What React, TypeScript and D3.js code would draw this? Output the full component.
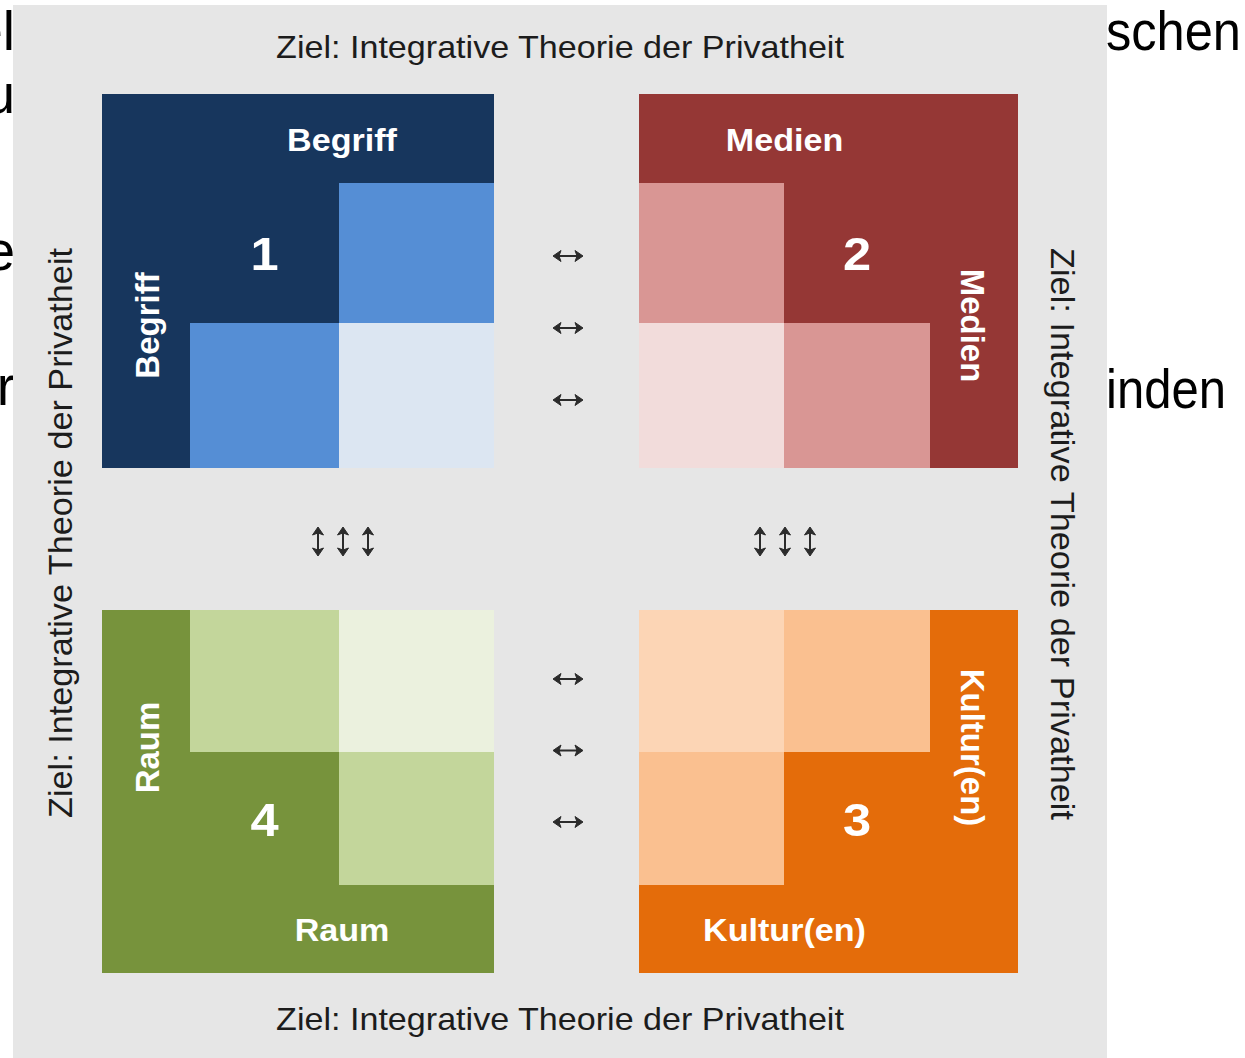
import React, { useEffect, useRef } from 'react'
import * as d3 from 'd3'

const title = 'Ziel: Integrative Theorie der Privatheit'
// order: top left, top right, bottom right, bottom left
const blockNames = ['Begriff', 'Medien', 'Kultur(en)', 'Raum']
const blockNumbers = ['1', '2', '3', '4']
const darkShades = ['#17365d', '#953735', '#e46c0a', '#77933c']
const midShades = ['#558ed5', '#d99694', '#fac090', '#c3d69b']
const lightShades = ['#dce6f2', '#f2dcdb', '#fcd5b5', '#ebf1de']
// 0 = dark, 1 = mid, 2 = light (header row + header column included)
const shadeGrids = [
  [[0, 0, 0], [0, 0, 1], [0, 1, 2]],
  [[0, 0, 0], [1, 0, 0], [2, 1, 0]],
  [[2, 1, 0], [1, 0, 0], [0, 0, 0]],
  [[0, 1, 2], [0, 0, 1], [0, 0, 0]],
]
// three arrows between each pair of neighbouring blocks
const links = [0, 1, 2]
// words of the slide underneath, cut off by the picture
const leftFragments = ['el', 'u', 'e', 'r']
const rightFragments = ['schen', 'inden']

export default function App() {
  const ref = useRef<SVGSVGElement>(null)

  useEffect(() => {
    const W = 1245
    const H = 1058
    const font = '"Liberation Sans", Arial, sans-serif'
    const svg = d3.select(ref.current)
    svg.selectAll('*').remove()

    svg.append('rect').attr('width', W).attr('height', H).attr('fill', '#fff')

    // slide text behind the panel
    const bg = svg.append('g').attr('font-family', font).attr('font-size', 55).attr('fill', '#000')
    const leftY = [50, 113, 270, 405]
    bg.selectAll('text.lf')
      .data(leftFragments)
      .join('text')
      .attr('class', 'lf')
      .attr('x', 15)
      .attr('y', (d, i) => leftY[i])
      .attr('text-anchor', 'end')
      .text(d => d)
    const rightY = [50, 408]
    const rightLen = [135, 120]
    bg.selectAll('text.rf')
      .data(rightFragments)
      .join('text')
      .attr('class', 'rf')
      .attr('x', 1106)
      .attr('y', (d, i) => rightY[i])
      .attr('textLength', (d, i) => rightLen[i])
      .attr('lengthAdjust', 'spacingAndGlyphs')
      .text(d => d)

    // gray panel
    svg.append('rect')
      .attr('x', 13).attr('y', 5)
      .attr('width', 1094).attr('height', H - 5)
      .attr('fill', '#e6e6e6')

    // titles on all four sides
    const tg = svg.append('g').attr('font-family', font).attr('fill', '#1c1c1c')
    tg.append('text')
      .attr('transform', 'translate(560,58) scale(1.1,1)')
      .attr('text-anchor', 'middle').attr('font-size', 31)
      .text(title)
    tg.append('text')
      .attr('transform', 'translate(560,1030) scale(1.1,1)')
      .attr('text-anchor', 'middle').attr('font-size', 31)
      .text(title)
    tg.append('text')
      .attr('transform', 'translate(72,533) rotate(-90)')
      .attr('text-anchor', 'middle').attr('font-size', 34)
      .attr('textLength', 570).attr('lengthAdjust', 'spacingAndGlyphs')
      .text(title)
    tg.append('text')
      .attr('transform', 'translate(1051,534) rotate(90)')
      .attr('text-anchor', 'middle').attr('font-size', 34)
      .attr('textLength', 572).attr('lengthAdjust', 'spacingAndGlyphs')
      .text(title)

    // the four blocks
    const colsL = [102, 190, 339, 494]
    const colsR = [639, 784, 930, 1018]
    const rowsT = [94, 183, 323, 468]
    const rowsB = [610, 752, 885, 973]

    blockNames.forEach((name, i) => {
      const top = i < 2
      const left = i === 0 || i === 3
      const x = d3.scaleLinear().domain([0, 1, 2, 3]).range(left ? colsL : colsR)
      const y = d3.scaleLinear().domain([0, 1, 2, 3]).range(top ? rowsT : rowsB)
      const shade = [darkShades[i], midShades[i], lightShades[i]]
      const cells = shadeGrids[i].flatMap((row, r) => row.map((s, c) => ({ r, c, s })))

      const g = svg.append('g')
      g.selectAll('rect')
        .data(cells)
        .join('rect')
        .attr('x', d => x(d.c))
        .attr('y', d => y(d.r))
        .attr('width', d => x(d.c + 1) - x(d.c))
        .attr('height', d => y(d.r + 1) - y(d.r))
        .attr('fill', d => shade[d.s])
        .attr('shape-rendering', 'crispEdges')

      const headRow = top ? 0 : 2
      const headCol = left ? 0 : 2
      const inCols = left ? [1, 3] : [0, 2]
      const inRows = top ? [1, 3] : [0, 2]

      const lg = g.append('g').attr('font-family', font).attr('font-weight', 'bold').attr('fill', '#fff')
      // horizontal label in the header row
      const hx = (x(inCols[0]) + x(inCols[1])) / 2
      const hy = (y(headRow) + y(headRow + 1)) / 2 + 12
      lg.append('text')
        .attr('transform', `translate(${hx},${hy}) scale(1.1,1)`)
        .attr('text-anchor', 'middle').attr('font-size', 31)
        .text(name)
      // vertical label in the header column
      const vc = (x(headCol) + x(headCol + 1)) / 2
      const vx = left ? vc + 13 : vc - 13
      const vy = (y(inRows[0]) + y(inRows[1])) / 2
      lg.append('text')
        .attr('transform', `translate(${vx},${vy}) rotate(${left ? -90 : 90})`)
        .attr('text-anchor', 'middle').attr('font-size', 33)
        .text(name)
      // number in the middle cell
      const nx = (x(1) + x(2)) / 2
      const ny = (y(1) + y(2)) / 2 + 17
      lg.append('text')
        .attr('transform', `translate(${nx},${ny}) scale(1.1,1)`)
        .attr('text-anchor', 'middle').attr('font-size', 46)
        .text(blockNumbers[i])
    })

    // arrows
    const ag = svg.append('g').attr('fill', '#2b2b2b').attr('stroke', '#2b2b2b')
    const line = d3.line()
    const hArrow = (cx: number, cy: number) => {
      const a = cx - 15, b = cx + 15
      ag.append('path').attr('d', line([[a + 3, cy], [b - 3, cy]])).attr('stroke-width', 2).attr('fill', 'none')
      ag.append('path').attr('d', line([[a, cy], [a + 8, cy - 5.5], [a + 6, cy], [a + 8, cy + 5.5]]) + 'Z').attr('stroke-width', 1)
      ag.append('path').attr('d', line([[b, cy], [b - 8, cy - 5.5], [b - 6, cy], [b - 8, cy + 5.5]]) + 'Z').attr('stroke-width', 1)
    }
    const vArrow = (cx: number, cy: number) => {
      const a = cy - 14.5, b = cy + 14.5
      ag.append('path').attr('d', line([[cx, a + 3], [cx, b - 3]])).attr('stroke-width', 2).attr('fill', 'none')
      ag.append('path').attr('d', line([[cx, a], [cx - 5.5, a + 8], [cx, a + 6], [cx + 5.5, a + 8]]) + 'Z').attr('stroke-width', 1)
      ag.append('path').attr('d', line([[cx, b], [cx - 5.5, b - 8], [cx, b - 6], [cx + 5.5, b - 8]]) + 'Z').attr('stroke-width', 1)
    }
    const hTop = d3.scalePoint<number>().domain(links).range([256, 400])
    const hBot = d3.scalePoint<number>().domain(links).range([679, 822])
    const vLeft = d3.scalePoint<number>().domain(links).range([318, 368])
    const vRight = d3.scalePoint<number>().domain(links).range([760, 810])
    links.forEach(k => {
      hArrow(568, hTop(k) as number)
      hArrow(568, hBot(k) as number)
      vArrow(vLeft(k) as number, 541.5)
      vArrow(vRight(k) as number, 541.5)
    })
  }, [])

  return (
    <svg
      ref={ref}
      width={1245}
      height={1058}
      style={{ position: 'absolute', left: 0, top: 0, display: 'block' }}
    />
  )
}
